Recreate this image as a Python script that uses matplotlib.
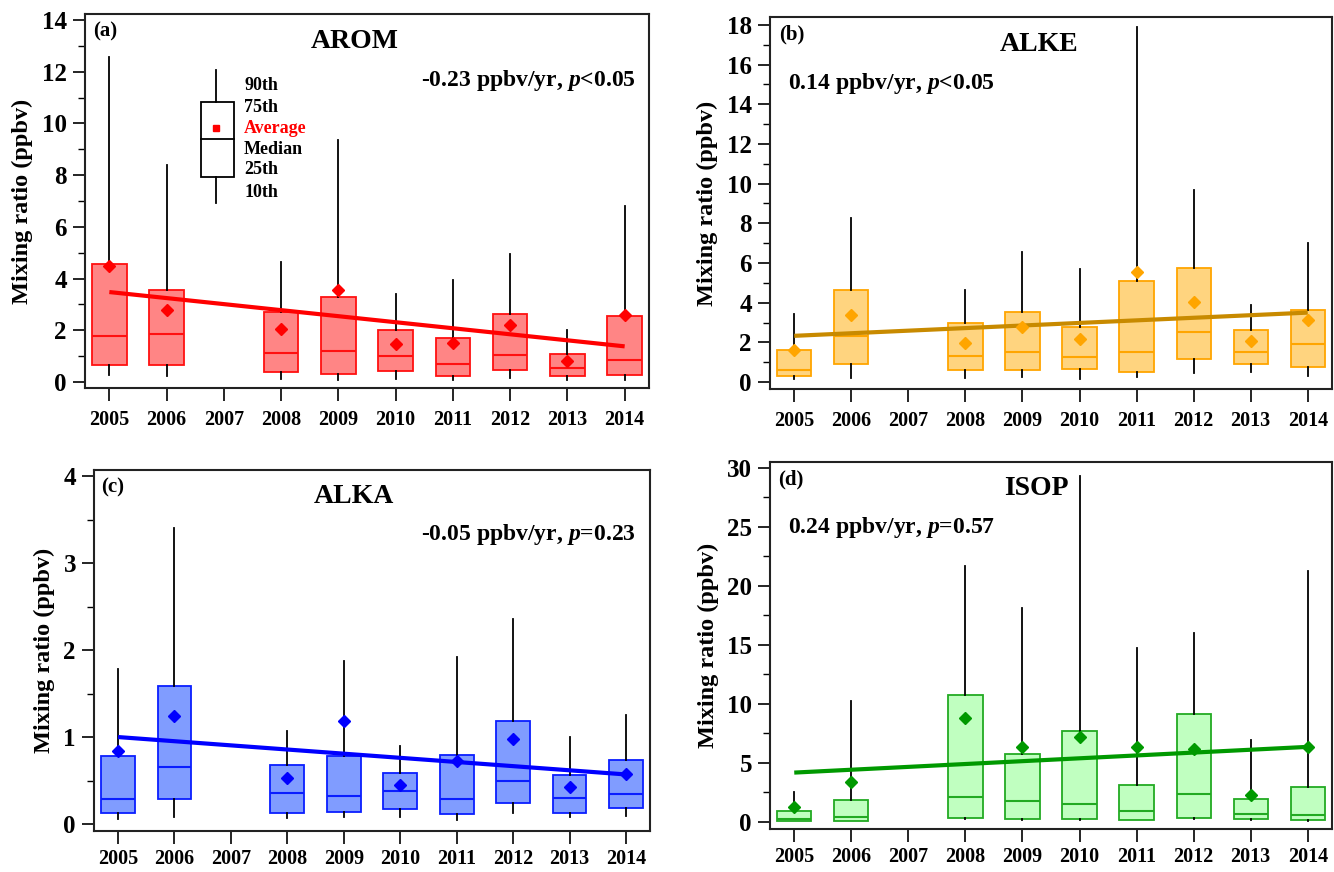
import numpy as np
import matplotlib
matplotlib.use("Agg")
import matplotlib.pyplot as plt
from matplotlib.patches import Rectangle
from matplotlib.ticker import MultipleLocator

plt.rcParams['font.family'] = ['Liberation Serif', 'DejaVu Serif']
plt.rcParams['font.weight'] = 'bold'
plt.rcParams['mathtext.fontset'] = 'custom'
plt.rcParams['mathtext.it'] = 'Liberation Serif:italic:bold'
plt.rcParams['mathtext.rm'] = 'Liberation Serif:bold'

years = [2005, 2006, 2008, 2009, 2010, 2011, 2012, 2013, 2014]
all_years = list(range(2005, 2015))

# AROM
arom_p10 = [0.26, 0.23, 0.13, 0.06, 0.13, 0.09, 0.15, 0.06, 0.06]
arom_p25 = [0.65, 0.67, 0.40, 0.32, 0.41, 0.25, 0.48, 0.22, 0.27]
arom_med = [1.77, 1.85, 1.12, 1.20, 0.99, 0.68, 1.05, 0.53, 0.86]
arom_p75 = [4.58, 3.55, 2.70, 3.29, 2.00, 1.72, 2.65, 1.10, 2.54]
arom_p90 = [12.58, 8.39, 4.65, 9.35, 3.42, 3.94, 4.94, 2.00, 6.80]
arom_mean = [4.48, 2.80, 2.04, 3.55, 1.48, 1.51, 2.19, 0.80, 2.58]
arom_trend = [3.48, 1.38]

# ALKE
alke_p10 = [0.15, 0.20, 0.20, 0.24, 0.17, 0.24, 0.45, 0.49, 0.32]
alke_p25 = [0.29, 0.91, 0.62, 0.62, 0.65, 0.50, 1.18, 0.91, 0.77]
alke_med = [0.62, 2.30, 1.29, 1.49, 1.26, 1.49, 2.50, 1.53, 1.93]
alke_p75 = [1.60, 4.65, 3.00, 3.54, 2.80, 5.07, 5.73, 2.64, 3.61]
alke_p90 = [3.44, 8.26, 4.65, 6.55, 5.69, 17.88, 9.69, 3.90, 7.00]
alke_mean = [1.63, 3.39, 1.96, 2.75, 2.18, 5.57, 4.06, 2.05, 3.14]
alke_trend = [2.33, 3.50]

# ALKA
alka_p10 = [0.06, 0.08, 0.07, 0.08, 0.08, 0.05, 0.13, 0.08, 0.09]
alka_p25 = [0.13, 0.29, 0.13, 0.14, 0.17, 0.12, 0.24, 0.13, 0.18]
alka_med = [0.29, 0.66, 0.36, 0.32, 0.38, 0.29, 0.49, 0.30, 0.34]
alka_p75 = [0.78, 1.59, 0.68, 0.78, 0.59, 0.79, 1.19, 0.56, 0.74]
alka_p90 = [1.78, 3.40, 1.07, 1.88, 0.90, 1.92, 2.36, 1.00, 1.25]
alka_mean = [0.84, 1.24, 0.53, 1.19, 0.45, 0.72, 0.98, 0.43, 0.58]
alka_trend = [1.00, 0.57]

# ISOP
isop_p10 = [0.06, 0.06, 0.25, 0.20, 0.20, 0.15, 0.25, 0.20, 0.10]
isop_p25 = [0.08, 0.08, 0.36, 0.28, 0.28, 0.20, 0.36, 0.25, 0.14]
isop_med = [0.28, 0.39, 2.07, 1.74, 1.54, 0.90, 2.38, 0.64, 0.59]
isop_p75 = [0.93, 1.88, 10.79, 5.75, 7.71, 3.17, 9.17, 1.93, 2.94]
isop_p90 = [2.52, 10.23, 21.67, 18.14, 29.35, 14.77, 15.98, 6.92, 21.30]
isop_mean = [1.26, 3.42, 8.77, 6.31, 7.23, 6.36, 6.22, 2.24, 6.39]
isop_trend = [4.18, 6.36]

W, H = 1334, 872
fig = plt.figure(figsize=(W / 100, H / 100), dpi=100)


def box_ax(px, name, tag, p10, p25, med, p75, p90, mean, trend, trend_txt,
           face, edge, mcol, tcol, ylim, major, minor, tag_x, name_x, txt_x, txt_ha,
           xpad=7):
    l, r, t, b = px
    ax = fig.add_axes([l / W, 1 - b / H, (r - l) / W, (b - t) / H])
    stats = []
    for i in range(len(years)):
        stats.append(dict(whislo=p10[i], q1=p25[i], med=med[i], q3=p75[i],
                          whishi=p90[i], mean=mean[i], fliers=[]))
    ax.bxp(stats, positions=years, widths=0.6, patch_artist=True,
           showcaps=False, showfliers=False, showmeans=False,
           boxprops=dict(facecolor=face, edgecolor=edge, linewidth=1.3),
           medianprops=dict(color=edge, linewidth=1.5),
           whiskerprops=dict(color='black', linewidth=1.3), zorder=2)
    ax.plot([years[0], years[-1]], trend, color=tcol, lw=3, zorder=3,
            solid_capstyle='butt')
    ax.plot(years, mean, 'D', color=mcol, ms=6.5, mec=mcol, zorder=4)

    ax.set_xlim(2004.575, 2014.425)
    ax.set_ylim(*ylim)
    ax.set_xticks(all_years)
    ax.set_xticklabels([str(y) for y in all_years], fontsize=14.5, fontweight='bold')
    ax.yaxis.set_major_locator(MultipleLocator(major))
    ax.yaxis.set_minor_locator(MultipleLocator(minor))
    ax.tick_params(axis='y', which='major', labelsize=18, length=9, width=1.2, pad=4)
    ax.tick_params(axis='y', which='minor', length=5, width=1.0)
    ax.tick_params(axis='x', which='major', length=9, width=1.2, pad=xpad)
    ax.tick_params(top=False, right=False)
    for lab in ax.get_yticklabels():
        lab.set_fontweight('bold')
    for s in ax.spines.values():
        s.set_linewidth(1.5)
        s.set_color('#222222')
    ax.set_ylabel('Mixing ratio (ppbv)', fontsize=17.5, fontweight='bold', labelpad=6)

    ax.text(tag_x, 0.952, tag, transform=ax.transAxes, fontsize=15,
            fontweight='bold', ha='left', va='center')
    ax.text(name_x, 0.927, name, transform=ax.transAxes, fontsize=20,
            fontweight='bold', ha='center', va='center')
    ax.text(txt_x, 0.822, trend_txt, transform=ax.transAxes, fontsize=17,
            fontweight='bold', ha=txt_ha, va='center')
    return ax


ax_a = box_ax((85, 649, 14, 388), 'AROM', '(a)', arom_p10, arom_p25, arom_med,
              arom_p75, arom_p90, arom_mean, arom_trend,
              r'-0.23 ppbv/yr, $p$<0.05', '#FF8585', '#FF1010', '#FF0000', '#FF0000',
              (-0.23, 14.23), 2, 1, 0.014, 0.479, 0.977, 'right')
ax_b = box_ax((770, 1332, 17, 389), 'ALKE', '(b)', alke_p10, alke_p25, alke_med,
              alke_p75, alke_p90, alke_mean, alke_trend,
              r'0.14 ppbv/yr, $p$<0.05', '#FFD47F', '#FFA500', '#FFA500', '#C88A00',
              (-0.35, 18.4), 2, 1, 0.016, 0.478, 0.032, 'left')
ax_c = box_ax((94, 650, 470, 831), 'ALKA', '(c)', alka_p10, alka_p25, alka_med,
              alka_p75, alka_p90, alka_mean, alka_trend,
              r'-0.05 ppbv/yr, $p$=0.23', '#809CFF', '#0A1EFF', '#0000FF', '#0000FF',
              (-0.08, 4.07), 1, 0.5, 0.013, 0.468, 0.975, 'right', xpad=4)
ax_d = box_ax((770, 1332, 462, 829), 'ISOP', '(d)', isop_p10, isop_p25, isop_med,
              isop_p75, isop_p90, isop_mean, isop_trend,
              r'0.24 ppbv/yr, $p$=0.57', '#C0FFC0', '#22AA22', '#009900', '#009900',
              (-0.6, 30.5), 5, 2.5, 0.014, 0.474, 0.032, 'left', xpad=4)

# legend key in panel (a)
tr = ax_a.transAxes
ax_a.plot([0.232, 0.232], [0.765, 0.850], color='black', lw=1.3, transform=tr)
ax_a.plot([0.232, 0.232], [0.495, 0.565], color='black', lw=1.3, transform=tr)
ax_a.add_patch(Rectangle((0.205, 0.565), 0.059, 0.200, transform=tr,
                         facecolor='white', edgecolor='black', lw=1.3))
ax_a.plot([0.205, 0.264], [0.666, 0.666], color='black', lw=1.3, transform=tr)
ax_a.plot([0.232], [0.695], 's', color='#FF0000', ms=5, transform=tr)
key_labels = ['90th', '75th', 'Average', 'Median', '25th', '10th']
key_y = [0.81, 0.751, 0.695, 0.639, 0.583, 0.524]
for lab, yy in zip(key_labels, key_y):
    ax_a.text(0.282, yy, lab, transform=tr, fontsize=13, fontweight='bold',
              color='#FF0000' if lab == 'Average' else 'black', ha='left', va='center')

fig.savefig('out.png', dpi=100)
